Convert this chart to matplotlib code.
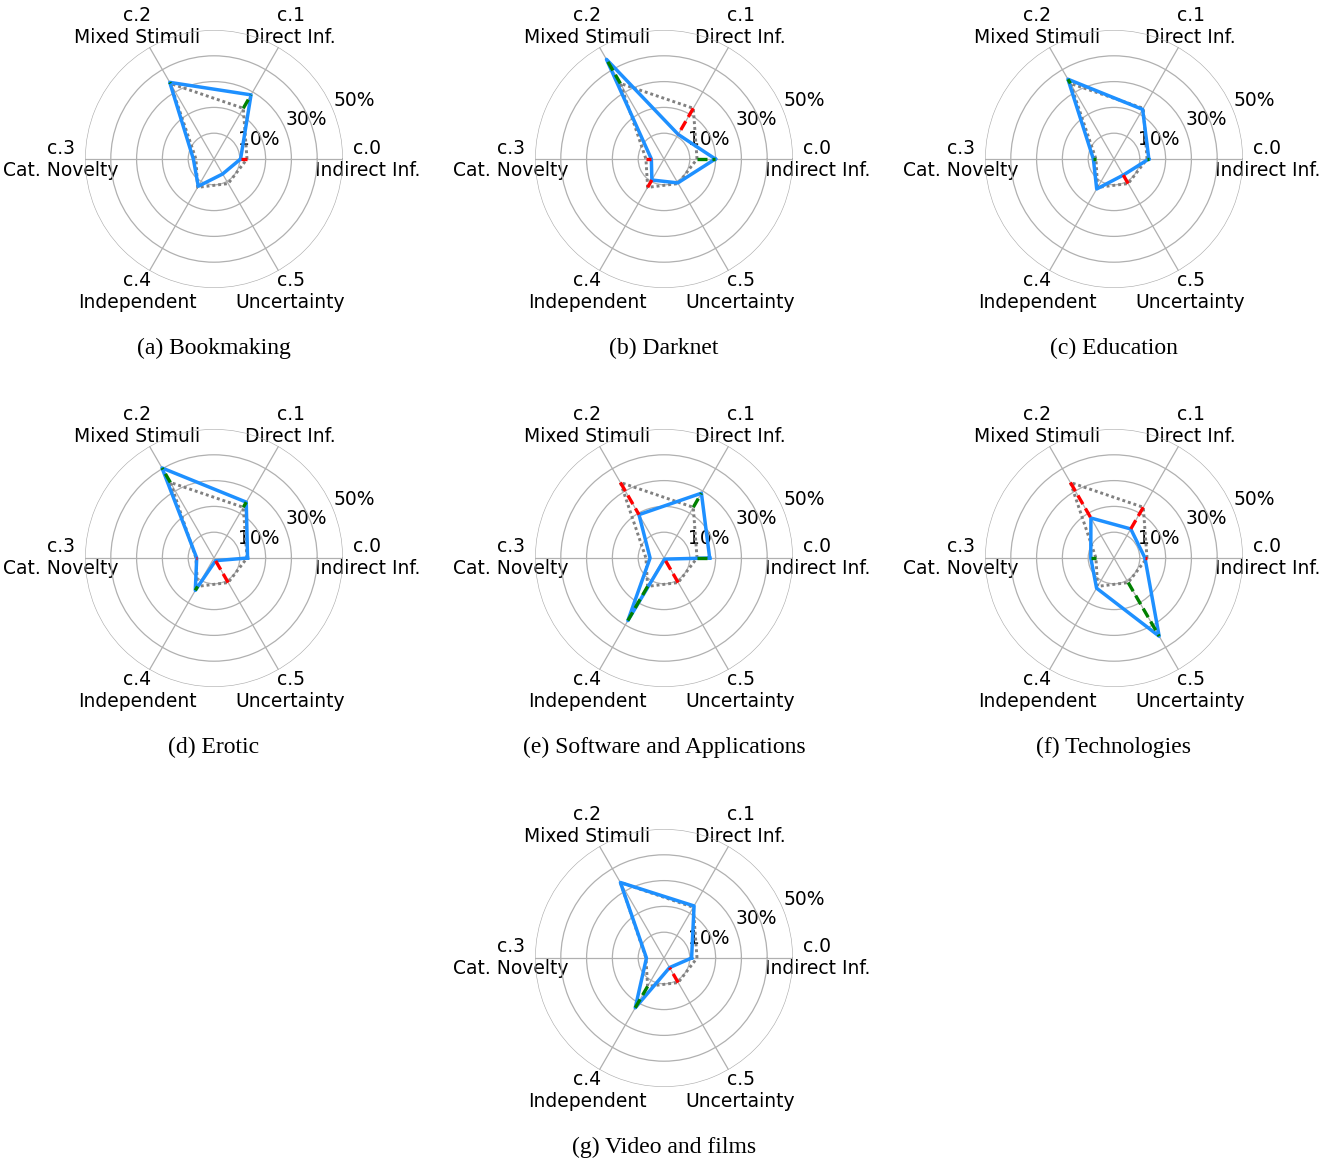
import numpy as np
import matplotlib
matplotlib.use("Agg")
import matplotlib.pyplot as plt

# ---------------- data ----------------
categories = ["c.0\nIndirect Inf.", "c.1\nDirect Inf.", "c.2\nMixed Stimuli",
              "c.3\nCat. Novelty", "c.4\nIndependent", "c.5\nUncertainty"]
r_ticks = [10, 20, 30, 40, 50]
r_tick_labels = ["10%", "", "30%", "", "50%"]

# overall distribution (grey dotted reference)
baseline = [12.8, 22.7, 33.8, 7.0, 12.7, 11.0]

titles = ["(a) Bookmaking", "(b) Darknet", "(c) Education", "(d) Erotic",
          "(e) Software and Applications", "(f) Technologies", "(g) Video and films"]

bookmaking = [10.3, 28.7, 34.3, 8.0, 12.2, 6.7]
darknet = [19.9, 11.0, 44.6, 4.9, 9.4, 10.7]
education = [13.5, 22.2, 35.7, 8.0, 13.4, 7.2]
erotic = [13.0, 25.0, 40.3, 6.7, 14.5, 1.2]
software = [17.7, 29.0, 19.4, 5.4, 28.0, 0.5]
technologies = [12.0, 13.0, 17.9, 9.0, 13.5, 35.0]
video = [10.7, 23.3, 33.8, 6.8, 22.3, 4.3]

# axes where the change w.r.t. the reference is highlighted
sig_bookmaking = [1, 1, 1, 0, 0, 0]
sig_darknet = [1, 1, 1, 1, 1, 0]
sig_education = [1, 0, 1, 1, 0, 1]
sig_erotic = [0, 1, 1, 1, 1, 1]
sig_software = [1, 1, 1, 0, 1, 1]
sig_technologies = [1, 1, 1, 1, 0, 1]
sig_video = [0, 0, 0, 0, 1, 1]

series = [bookmaking, darknet, education, erotic, software, technologies, video]
flags = [sig_bookmaking, sig_darknet, sig_education, sig_erotic,
         sig_software, sig_technologies, sig_video]

# ---------------- layout ----------------
W, H = 1338, 1164
fig = plt.figure(figsize=(W / 100, H / 100), dpi=100)

centers = [(214, 159), (664, 159), (1114, 159),
           (214, 558), (664, 558), (1114, 558),
           (664, 958)]
R = 129  # pixel radius of the 50% circle

angles = np.deg2rad(np.arange(6) * 60.0)
ang_closed = np.concatenate([angles, angles[:1]])

for k, (vals, flg, title, (cx, cy)) in enumerate(zip(series, flags, titles, centers)):
    ax = fig.add_axes([(cx - R) / W, 1 - (cy + R) / H, 2 * R / W, 2 * R / H],
                      projection="polar")
    ax.set_ylim(0, 50)
    ax.set_yticks(r_ticks)
    ax.set_yticklabels(r_tick_labels, fontsize=13.5)
    ax.set_xticks(angles)
    ax.set_xticklabels(categories, fontsize=13.5)
    ax.tick_params(axis="x", pad=7)
    ax.spines["polar"].set_visible(False)
    ax.grid(True, color="#b0b0b0", lw=0.9)

    b = np.array(baseline + baseline[:1])
    v = np.array(vals + vals[:1])
    ax.plot(ang_closed, b, color="gray", lw=2.1, linestyle=(0, (1, 1)),
            dash_capstyle="butt", zorder=3)
    ax.plot(ang_closed, v, color="dodgerblue", lw=2.5, zorder=4)
    for i in range(6):
        if flg[i]:
            col = "green" if vals[i] > baseline[i] else "red"
            ax.plot([angles[i], angles[i]], [baseline[i], vals[i]], color=col,
                    lw=2.4, linestyle=(0, (3.0, 1.5)), zorder=5)

    fig.text(cx / W, 1 - (cy + 189) / H, title, ha="center", va="center",
             fontsize=17, family="Liberation Serif")

fig.savefig("out.png", dpi=100)
